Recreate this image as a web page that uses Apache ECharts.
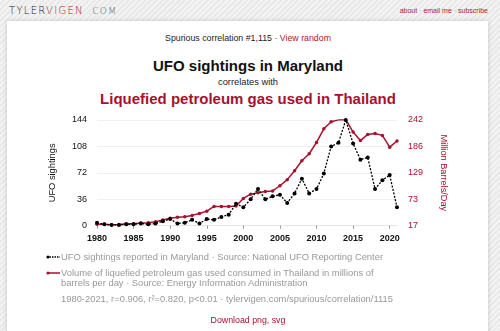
<!DOCTYPE html>
<html><head><meta charset="utf-8">
<script src="https://cdn.jsdelivr.net/npm/echarts@6/dist/echarts.min.js"></script>
<style>
html,body{margin:0;padding:0;width:500px;height:331px;overflow:hidden;font-family:"Liberation Sans",Arial,sans-serif;}
body{background:repeating-linear-gradient(135deg,#f3f3f3 0px,#f3f3f3 2px,#e9e9e9 2px,#e9e9e9 4px);position:relative;}
#logo{position:absolute;left:9px;top:5px;font-family:"DejaVu Sans",sans-serif;font-size:10px;letter-spacing:1.3px;color:#222;font-weight:300;}
#logo .r{color:#b0182f}
#logo .g{color:#555;font-size:9px}
#nav{position:absolute;right:12px;top:7px;font-size:7px;line-height:8px;color:#b0182f;}
#nav .d{color:#888}
#card{position:absolute;left:7px;top:21px;width:481px;height:320px;background:#fff;box-shadow:0 0 4px rgba(0,0,0,0.18);}
.c{position:absolute;left:0;width:496px;text-align:center;white-space:nowrap;}
#sp{top:32.7px;font-size:8.8px;line-height:10px;color:#222;}
#sp span{color:#b0182f}
#t1{top:57px;font-size:15px;line-height:17px;font-weight:bold;color:#111;}
#t2{top:76.7px;font-size:9.3px;line-height:10px;color:#222;}
#t3{top:89.5px;font-size:15px;line-height:17px;font-weight:bold;color:#a8102f;}
#chart{position:absolute;left:0;top:0;width:500px;height:331px;}
.lg{position:absolute;left:61px;font-size:9.4px;color:#999;line-height:10px;white-space:nowrap;}
#dl{top:315px;font-size:8.8px;line-height:10px;color:#a8102f;}
</style></head>
<body>
<div id="logo">TYLER<span class="r">VIGEN</span><span class="g"> .COM</span></div>
<div id="nav">about <span class="d">·</span> email me <span class="d">·</span> subscribe</div>
<div id="card"></div>
<div class="c" id="sp">Spurious correlation #1,115 · <span>View random</span></div>
<div class="c" id="t1">UFO sightings in Maryland</div>
<div class="c" id="t2">correlates with</div>
<div class="c" id="t3">Liquefied petroleum gas used in Thailand</div>
<div id="chart"></div>
<svg style="position:absolute;left:46px;top:254px" width="15" height="6"><line x1="1" y1="3" x2="14" y2="3" stroke="#000" stroke-width="1.3" stroke-dasharray="1.5,1"/><circle cx="2" cy="3" r="1.6" fill="#000"/></svg>
<div class="lg" style="top:251.7px">UFO sightings reported in Maryland · Source: National UFO Reporting Center</div>
<svg style="position:absolute;left:46px;top:270px" width="15" height="6"><line x1="1" y1="3" x2="14" y2="3" stroke="#a8102f" stroke-width="1.5"/><circle cx="2" cy="3" r="1.6" fill="#a8102f"/></svg>
<div class="lg" style="top:268.3px">Volume of liquefied petroleum gas used consumed in Thailand in millions of<br>barrels per day · Source: Energy Information Administration</div>
<div class="lg" style="top:294.3px">1980-2021, r=0.906, r²=0.820, p&lt;0.01 · tylervigen.com/spurious/correlation/1115</div>
<div class="c" id="dl">Download png, svg</div>
<script>
const years = [1980,1981,1982,1983,1984,1985,1986,1987,1988,1989,1990,1991,1992,1993,1994,1995,1996,1997,1998,1999,2000,2001,2002,2003,2004,2005,2006,2007,2008,2009,2010,2011,2012,2013,2014,2015,2016,2017,2018,2019,2020,2021];
const ufoSightings = [4,2,1,1,2,2,3,2,3,6,9,3,4,8,3,9,8,12,15,30,25,36,50,36,40,42,31,44,64,44,50,71,108,113,144,112,90,93,50,62,69,25];
const lpgThailand = [20,20,19,19.5,21,21,23,23.5,25.5,29,33,35,36,39,43,48,58,58,58,59,75,84,87,90,91,102,115,134,155,170,194,223,238,242,243,216,198,211,213,209,184,197];
const leftTicks = {min:0,max:144,interval:36};
const rightTicks = {min:17.1,max:241.7,interval:56.15};
const xTickYears = [1980,1985,1990,1995,2000,2005,2010,2015,2020];

const red = '#a8102f';
const chart = echarts.init(document.getElementById('chart'), null, {renderer:'canvas'});
chart.setOption({
  animation:false,
  backgroundColor:'transparent',
  grid:{left:97,right:103,top:120,bottom:105.3,containLabel:false},
  xAxis:{type:'value',min:1980,max:2021,interval:5,
    axisLine:{show:true,lineStyle:{color:'#e4e4e4'}},
    axisTick:{show:true,length:3,lineStyle:{color:'#999'},customValues:xTickYears},
    axisLabel:{color:'#111',fontWeight:'bold',fontSize:9,fontFamily:'Liberation Sans',margin:8,customValues:xTickYears,formatter:v=>String(v)},
    splitLine:{show:false}},
  yAxis:[
    {type:'value',position:'left',min:leftTicks.min,max:leftTicks.max,interval:leftTicks.interval,
      name:'UFO sightings',nameLocation:'middle',nameGap:40,nameRotate:90,
      nameTextStyle:{color:'#111',fontSize:9.3,fontFamily:'Liberation Sans'},
      axisLine:{show:false},axisTick:{show:false},
      axisLabel:{color:'#111',fontSize:9,fontFamily:'Liberation Sans',margin:10},
      splitLine:{show:true,lineStyle:{color:'#f0f0f0',width:1}}},
    {type:'value',position:'right',min:rightTicks.min,max:rightTicks.max,interval:rightTicks.interval,
      name:'Million Barrels/Day',nameLocation:'middle',nameGap:42,nameRotate:-90,
      nameTextStyle:{color:red,fontSize:9.2,fontFamily:'Liberation Sans'},
      axisLine:{show:false},axisTick:{show:false},
      axisLabel:{color:red,fontSize:9,fontFamily:'Liberation Sans',margin:11,formatter:v=>String(Math.round(v))},
      splitLine:{show:false}}
  ],
  series:[
    {type:'line',yAxisIndex:1,data:years.map((y,i)=>[y,lpgThailand[i]]),
      lineStyle:{color:red,width:1.5},itemStyle:{color:red},symbol:'circle',symbolSize:3.5,z:2},
    {type:'line',yAxisIndex:0,data:years.map((y,i)=>[y,ufoSightings[i]]),
      lineStyle:{color:'#000',width:1.3,type:[2,1.5]},itemStyle:{color:'#000'},symbol:'circle',symbolSize:4,z:3}
  ]
});
</script>
</body></html>
